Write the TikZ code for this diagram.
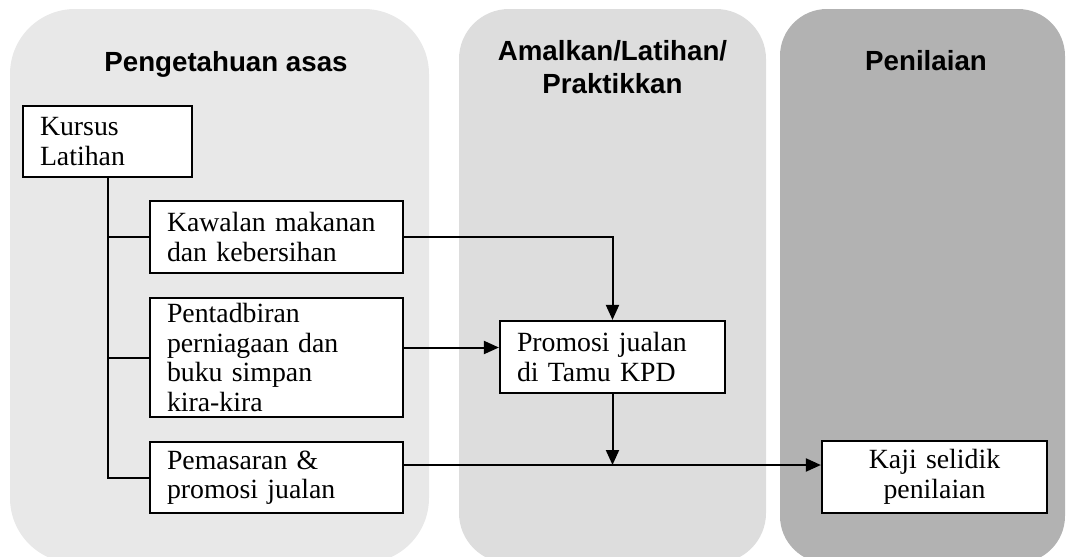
\documentclass[tikz,border=0pt]{standalone}
\usepackage{fontspec}
\setmainfont{Liberation Serif}
\newfontfamily\headfont{Liberation Sans}
\usetikzlibrary{arrows.meta}

\definecolor{panelA}{HTML}{E8E8E8}
\definecolor{panelB}{HTML}{DDDDDD}
\definecolor{panelC}{HTML}{B2B2B2}

\begin{document}
\begin{tikzpicture}[x=1pt,y=-1pt,box/.style={draw,line width=2.2pt,fill=white,inner xsep=17pt,inner ysep=2pt,align=left,font=\fontsize{27.8}{29.5}\selectfont},head/.style={anchor=base,align=center,font=\headfont\bfseries\fontsize{27.7}{33}\selectfont},link/.style={line width=2pt},arr/.style={link,-{Triangle[length=15pt,width=13pt]}}]
    \useasboundingbox (0,0) rectangle (1066,557);
    \clip (0,0) rectangle (1066,557);
    % the three stages
    \fill[panelA,rounded corners=65pt] (10,9) rectangle (429,563);
    \fill[panelB,rounded corners=50pt] (459,9) rectangle (766,563);
    \fill[panelC,rounded corners=47pt] (780,9) rectangle (1065,563);
    \node[head] (asas) at (226,71) {Pengetahuan asas};
    \node[head] (amalkan) at (612.5,93) {Amalkan/Latihan/\\Praktikkan};
    \node[head] (penilaian) at (926,70) {Penilaian};
    % boxes
    \node[box,text width=135pt,minimum height=71pt] (kursus) at (107.5,141.5) {Kursus\\Latihan};
    \node[box,text width=219pt,minimum height=72pt] (kawalan) at (276.5,237) {Kawalan makanan\\dan kebersihan};
    \node[box,text width=219pt,minimum height=119pt] (pentadbiran) at (276.5,357.5) {Pentadbiran\\perniagaan dan\\buku simpan\\kira-kira};
    \node[box,text width=219pt,minimum height=71pt] (pemasaran) at (276.5,477.5) {Pemasaran \&\\promosi jualan};
    \node[box,text width=191pt,minimum height=72pt] (promosi) at (612.5,357) {Promosi jualan\\di Tamu KPD};
    \node[box,text width=191pt,minimum height=72pt,align=center] (kaji) at (934.5,477) {Kaji selidik\\penilaian};
    % connectors
    \draw[link] (kursus.south) |- (pemasaran.west);
    \draw[link] (kursus.south |- kawalan.west) -- (kawalan.west);
    \draw[link] (kursus.south |- pentadbiran.west) -- (pentadbiran.west);
    \draw[arr] (kawalan.east) -| (promosi.north);
    \draw[arr] ([yshift=10pt]pentadbiran.east) -- ([yshift=10pt]pentadbiran.east -| promosi.west);
    \coordinate (meet) at ([yshift=12.5pt]pemasaran.east -| promosi.south);
    \draw[arr] ([yshift=12.5pt]pemasaran.east) -- ([yshift=12.5pt]pemasaran.east -| kaji.west);
    \draw[arr] (promosi.south) -- (meet);
\end{tikzpicture}
\end{document}
